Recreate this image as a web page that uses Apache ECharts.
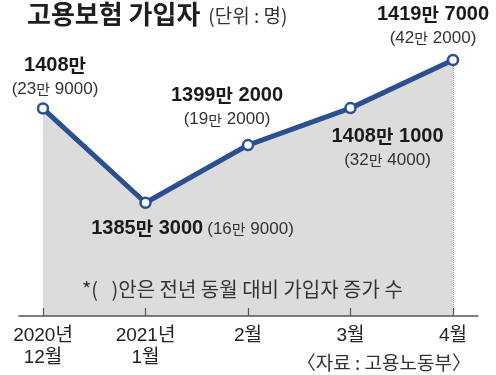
<!DOCTYPE html>
<html>
<head>
<meta charset="utf-8">
<script src="https://cdn.jsdelivr.net/npm/echarts@6/dist/echarts.min.js"></script>
<style>
html,body{margin:0;padding:0;background:#fff;}
#chart{width:496px;height:375px;}
</style>
</head>
<body>
<div id="chart"></div>
<script>
// ---- data ----
const categories = ['2020년\n12월', '2021년\n1월', '2월', '3월', '4월'];
const subscribers = [14080000, 13853000, 13992000, 14081000, 14197000]; // 명
const yoyIncrease = [239000, 169000, 192000, 324000, 422000];          // 명
const titleText = '고용보험 가입자';
const unitText = '(단위 : 명)';
const noteText = '*(   )안은 전년 동월 대비 가입자 증가 수';
const sourceText = '〈자료 : 고용노동부〉';

// ---- styling ----
const NUM = "'Liberation Sans','Noto Sans CJK KR',sans-serif";
const KR = "'Noto Sans CJK KR','Noto Sans',sans-serif";
const LINE = '#2b4f93';
const AREA = '#dcdcdc';
const Y_MIN = 1358, Y_MAX = 1425;

const plotValues = subscribers.map(v => v / 10000);

function fmtMan(v, d, h, open, close) {
  const man = Math.floor(v / 10000);
  const rem = v % 10000;
  return '{' + d + '|' + open + man + '}{' + h + '|만}' +
    (rem ? '{' + d + '| ' + rem + close + '}' : (close ? '{' + d + '|' + close + '}' : ''));
}
const rich = {
  bd: {fontFamily: NUM, fontWeight: 'bold', fontSize: 20, color: '#1a1a1a', lineHeight: 24},
  bh: {fontFamily: KR, fontWeight: 'bold', fontSize: 19, color: '#1a1a1a', lineHeight: 24},
  sd: {fontFamily: NUM, fontSize: 17, color: '#333', lineHeight: 24},
  sh: {fontFamily: KR, fontSize: 15, color: '#333', lineHeight: 24},
  gap: {width: 4, lineHeight: 24}
};
// label placement per point (style only)
const labelPlace = [
  {position: 'top', distance: 1, offset: [12, 0], twoLine: true},
  {position: 'bottom', distance: 8, offset: [47, 0], twoLine: false},
  {position: 'top', distance: 7, offset: [-21, 0], twoLine: true},
  {position: 'bottom', distance: 10, offset: [37, 0], twoLine: true},
  {position: 'top', distance: 3, offset: [-20, 0], twoLine: true}
];

const seriesData = plotValues.map((v, i) => {
  const p = labelPlace[i];
  const main = fmtMan(subscribers[i], 'bd', 'bh', '', '');
  const sub = fmtMan(yoyIncrease[i], 'sd', 'sh', '(', ')');
  return {
    value: v,
    label: {
      show: true,
      position: p.position,
      distance: p.distance,
      offset: p.offset,
      align: 'center',
      formatter: p.twoLine ? main + '\n' + sub : main + '{gap|}' + sub,
      rich: rich
    }
  };
});

const dropLines = plotValues.map((v, i) => [
  {coord: [i, v]},
  {coord: [i, Y_MIN]}
]);

const chart = echarts.init(document.getElementById('chart'), null, {renderer: 'canvas'});
chart.setOption({
  animation: false,
  backgroundColor: '#fff',
  title: [
    {
      text: '{t|' + titleText + '}{u|' + unitText + '}',
      left: 27, top: -2, padding: 0,
      textStyle: {
        rich: {
          t: {fontFamily: KR, fontWeight: 'bold', fontSize: 26, color: '#1e1e1e', lineHeight: 32},
          u: {fontFamily: KR, fontWeight: 'normal', fontSize: 19, color: '#333', lineHeight: 32, padding: [3, 0, 0, 8]}
        }
      }
    },
    {
      text: noteText,
      left: 82, top: 277, padding: 0,
      textStyle: {fontFamily: KR, fontWeight: 'normal', fontSize: 20, color: '#333', lineHeight: 24}
    },
    {
      text: sourceText,
      right: 25, top: 351, padding: 0,
      textStyle: {fontFamily: KR, fontWeight: 'normal', fontSize: 19, color: '#333', lineHeight: 24}
    }
  ],
  grid: [
    {left: 43, right: 43, top: 38, bottom: 59},
    {left: 19, right: 18, top: 38, bottom: 59}
  ],
  xAxis: [
    {
      type: 'category', gridIndex: 0, data: categories, boundaryGap: false, z: 10,
      axisLine: {show: false},
      axisTick: {show: true, inside: true, length: 8, lineStyle: {color: '#555', width: 1.2}},
      axisLabel: {
        margin: 9, fontFamily: NUM, fontSize: 19, lineHeight: 22, color: '#222',
        interval: 0
      },
      splitLine: {show: false}
    },
    {
      type: 'value', gridIndex: 1, min: 0, max: 1, z: 9,
      axisLine: {show: true, lineStyle: {color: '#555', width: 1.5}},
      axisTick: {show: false}, axisLabel: {show: false}, splitLine: {show: false}
    }
  ],
  yAxis: [
    {type: 'value', gridIndex: 0, min: Y_MIN, max: Y_MAX, show: false, splitLine: {show: false}},
    {type: 'value', gridIndex: 1, min: 0, max: 1, show: false, splitLine: {show: false}}
  ],
  series: [{
    type: 'line',
    xAxisIndex: 0, yAxisIndex: 0,
    data: seriesData,
    symbol: 'circle',
    symbolSize: 10,
    lineStyle: {color: LINE, width: 5},
    itemStyle: {color: '#fff', borderColor: LINE, borderWidth: 2.5},
    areaStyle: {color: AREA, opacity: 1, origin: 'start'},
    z: 3,
    markLine: {
      silent: true,
      symbol: ['none', 'none'],
      label: {show: false},
      lineStyle: {color: '#a8a8a8', type: 'dotted', width: 1},
      z: 1,
      data: dropLines
    }
  }]
});
</script>
</body>
</html>
